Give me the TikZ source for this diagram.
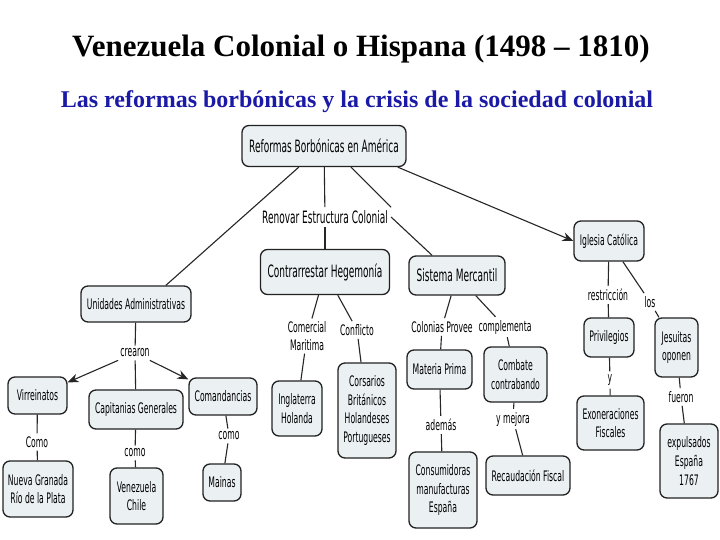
\documentclass[tikz,border=0pt]{standalone}
\usepackage{fontspec}
\setmainfont{Liberation Serif}
\newfontfamily\mapfont[FakeStretch=0.53]{DejaVu Sans}
\usetikzlibrary{arrows.meta}
\definecolor{boxfill}{HTML}{EBF0F3}
\definecolor{subblue}{HTML}{1A1AA6}
\definecolor{boxline}{HTML}{222222}

\tikzset{
  concept/.style={draw=boxline, line width=1.3pt, rounded corners=7pt, fill=boxfill,
    align=center, inner sep=0pt, font=\mapfont\fontsize{14.5}{18.8}\selectfont},
  bigtext/.style={font=\mapfont\fontsize{17}{20}\selectfont},
  linkword/.style={align=center, inner sep=3pt, font=\mapfont\fontsize{14.5}{17.5}\selectfont},
  link/.style={line width=1.1pt, draw=black!85},
  linkarrow/.style={link, -{Stealth[length=11pt,width=9pt]}}
}

\begin{document}
\begin{tikzpicture}[x=1pt,y=-1pt]
\fill[white] (0,0) rectangle (720,540);

% titulos
\node[font=\fontsize{31}{36}\selectfont\bfseries, anchor=base] (title) at (361,57) {Venezuela Colonial o Hispana (1498 – 1810)};
\node[font=\fontsize{24}{28}\selectfont\bfseries, text=subblue, anchor=base] (subtitle) at (357,108) {Las reformas borbónicas y la crisis de la sociedad colonial};

% conceptos
\node[concept, bigtext, minimum width=164pt, minimum height=41pt] (ref) at (324,146) {Reformas Borbónicas en América};
\node[linkword, bigtext] (renov) at (325,217) {Renovar Estructura Colonial};
\node[concept, minimum width=70pt, minimum height=40pt] (igl) at (609,241) {Iglesia Católica};
\node[concept, bigtext, minimum width=129pt, minimum height=45pt] (contr) at (325,272) {Contrarrestar Hegemonía};
\node[concept, bigtext, minimum width=96pt, minimum height=39pt] (sist) at (457,275.5) {Sistema Mercantil};
\node[concept, minimum width=110pt, minimum height=36pt] (unid) at (136,304) {Unidades Administrativas};
\node[linkword] (crea) at (135,353) {crearon};

\node[concept, minimum width=59pt, minimum height=37pt] (virr) at (37.5,395.5) {Virreinatos};
\node[concept, minimum width=94pt, minimum height=39pt] (capi) at (136,409.5) {Capitanias Generales};
\node[concept, minimum width=68pt, minimum height=37pt] (coma) at (223,396.5) {Comandancias};
\node[linkword] (como1) at (37,442) {Como};
\node[linkword] (como2) at (135,453) {como};
\node[linkword] (como3) at (229,436) {como};
\node[concept, minimum width=70pt, minimum height=56pt] (nueva) at (38,489) {Nueva Granada\\Río de la Plata};
\node[concept, minimum width=53pt, minimum height=56pt] (vene) at (136.5,496) {Venezuela\\Chile};
\node[concept, minimum width=38pt, minimum height=37pt] (main) at (222,482.5) {Mainas};

\node[linkword] (comer) at (307,336) {Comercial\\Maritima};
\node[linkword] (confl) at (357,330) {Conflicto};
\node[concept, minimum width=50pt, minimum height=55pt] (ingl) at (297,408.5) {Inglaterra\\Holanda};
\node[concept, minimum width=58pt, minimum height=95pt] (cors) at (367,410.5) {Corsarios\\Británicos\\Holandeses\\Portugueses};

\node[linkword] (colo) at (442,327) {Colonias Provee};
\node[linkword] (compl) at (505,327) {complementa};
\node[concept, minimum width=65pt, minimum height=39pt] (mate) at (439.5,369.5) {Materia Prima};
\node[concept, minimum width=63pt, minimum height=55pt] (comb) at (515.5,374.5) {Combate\\contrabando};
\node[linkword] (adem) at (441,425) {además};
\node[linkword] (mejo) at (513,419) {y mejora};
\node[concept, minimum width=68pt, minimum height=76pt] (cons) at (443,490) {Consumidoras\\manufacturas\\España};
\node[concept, minimum width=84pt, minimum height=39pt] (reca) at (528,475.5) {Recaudación Fiscal};

\node[linkword] (restr) at (608,295) {restricción};
\node[linkword] (los) at (650,302) {los};
\node[concept, minimum width=50pt, minimum height=39pt] (priv) at (609,337.5) {Privilegios};
\node[concept, minimum width=43pt, minimum height=59pt] (jesu) at (676.5,347.5) {Jesuitas\\oponen};
\node[linkword] (yy) at (610,380) {y};
\node[linkword] (fuer) at (681,397) {fueron};
\node[concept, minimum width=67pt, minimum height=54pt] (exon) at (610.5,423) {Exoneraciones\\Fiscales};
\node[concept, minimum width=58pt, minimum height=74pt] (expu) at (689,461) {expulsados\\España\\1767};

% enlaces
\draw[link] (ref.220) -- (unid.32);
\draw[link] (ref) -- (renov);
\draw[link] (renov) -- (contr);
\draw[link] (ref.322) -- (renov.north east);
\draw[link] (renov.east) -- (sist.141);
\draw[linkarrow] (ref.344) -- (igl.west);

\draw[link] (unid) -- (crea);
\draw[linkarrow] (crea) -- (virr);
\draw[link] (crea) -- (capi);
\draw[linkarrow] (crea) -- (coma);
\draw[link] (virr) -- (como1);
\draw[link] (como1) -- (nueva);
\draw[link] (capi) -- (como2);
\draw[link] (como2) -- (vene);
\draw[link] (coma) -- (como3);
\draw[link] (como3) -- (main);

\draw[link] (contr) -- (comer);
\draw[link] (comer) -- (ingl);
\draw[link] (contr) -- (confl);
\draw[link] (confl) -- (cors);

\draw[link] (sist) -- (colo);
\draw[link] (colo) -- (mate);
\draw[link] (sist) -- (compl);
\draw[link] (compl) -- (comb);
\draw[link] (mate) -- (adem);
\draw[link] (adem) -- (cons);
\draw[link] (comb) -- (mejo);
\draw[link] (mejo) -- (reca);

\draw[link] (igl) -- (restr);
\draw[link] (restr) -- (priv);
\draw[link] (igl) -- (los);
\draw[link] (los) -- (jesu);
\draw[link] (priv) -- (yy);
\draw[link] (yy) -- (exon);
\draw[link] (jesu) -- (fuer);
\draw[link] (fuer) -- (expu);
\end{tikzpicture}
\end{document}
